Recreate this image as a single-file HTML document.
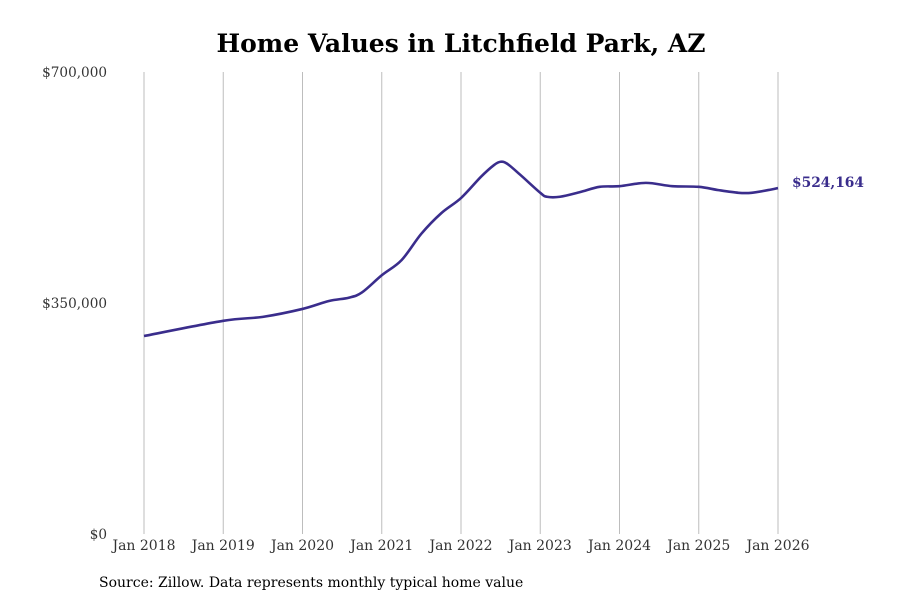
<!DOCTYPE html>
<html><head><meta charset="utf-8"><style>
body{margin:0;background:#fff;}
svg{display:block;font-family:"DejaVu Serif","Liberation Serif",serif;}
</style></head><body>
<svg id="chart" width="900" height="600">
<text x="461" y="52" text-anchor="middle" font-size="25" font-weight="bold" fill="#000">Home Values in Litchfield Park, AZ</text>
<g id="grid"></g><g id="yaxis"></g><g id="xaxis"></g><g id="series"></g>
<text x="99" y="587" font-size="14" fill="#000">Source: Zillow. Data represents monthly typical home value</text>
</svg>
<script>
const monthIdx=[0,12,18,24,28,31,33,36,39,42,45,48,51,53,54,55,57,60,61,63,66,69,72,76,80,84,87,90,92,95,96];
const values=[300000,323000,329000,341000,353000,358000,366000,392000,415000,455000,486000,509000,541000,559000,564000,561000,544000,517000,511000,511000,518000,526000,527000,532000,527000,526000,521000,517000,517000,522000,524164];
const xTicks=["Jan 2018","Jan 2019","Jan 2020","Jan 2021","Jan 2022","Jan 2023","Jan 2024","Jan 2025","Jan 2026"];
const yTicks=[0,350000,700000];
const x0=144,x1=778,yB=534,yT=72;
const X=m=>x0+(x1-x0)*m/96;
const Y=v=>yB-(yB-yT)*v/700000;
const NS="http://www.w3.org/2000/svg";
function mk(tag,attrs,parent,text){const e=document.createElementNS(NS,tag);for(const k in attrs)e.setAttribute(k,attrs[k]);if(text!==undefined)e.textContent=text;document.getElementById(parent).appendChild(e);return e;}
xTicks.forEach((t,i)=>{
 const x=X(i*12);
 const g=mk('line',{x1:x,x2:x,y1:yT,y2:yB,stroke:'#bdbdbd','stroke-width':1},'grid');
 
 
 const l=mk('text',{x:x,y:550,'text-anchor':'middle','font-size':14,fill:'#333'},'xaxis',t);
 
 
});
yTicks.forEach(v=>{
 const l=mk('text',{x:107,y:Y(v)+5,'text-anchor':'end','font-size':13.6,fill:'#333'},'yaxis','$'+v.toLocaleString('en-US'));
 
 
});
const pts=monthIdx.map((m,i)=>[X(m),Y(values[i])]);
let d='M'+pts[0][0]+','+pts[0][1];
for(let i=0;i<pts.length-1;i++){
 const p0=pts[Math.max(0,i-1)],p1=pts[i],p2=pts[i+1],p3=pts[Math.min(pts.length-1,i+2)];
 const c1=[p1[0]+(p2[0]-p0[0])/6,p1[1]+(p2[1]-p0[1])/6];
 const c2=[p2[0]-(p3[0]-p1[0])/6,p2[1]-(p3[1]-p1[1])/6];
 d+=' C'+c1[0]+','+c1[1]+' '+c2[0]+','+c2[1]+' '+p2[0]+','+p2[1];
}
const path=mk('path',{d:d,fill:'none',stroke:'#3a2d8c','stroke-width':2.6,'stroke-linejoin':'round'},'series');


const last=pts[pts.length-1];
const lbl=mk('text',{x:last[0]+14,y:last[1]-1,'font-size':13.8,'font-weight':'bold',fill:'#3a2d8c'},'series','$'+values[values.length-1].toLocaleString('en-US'));


</script>
</body></html>
